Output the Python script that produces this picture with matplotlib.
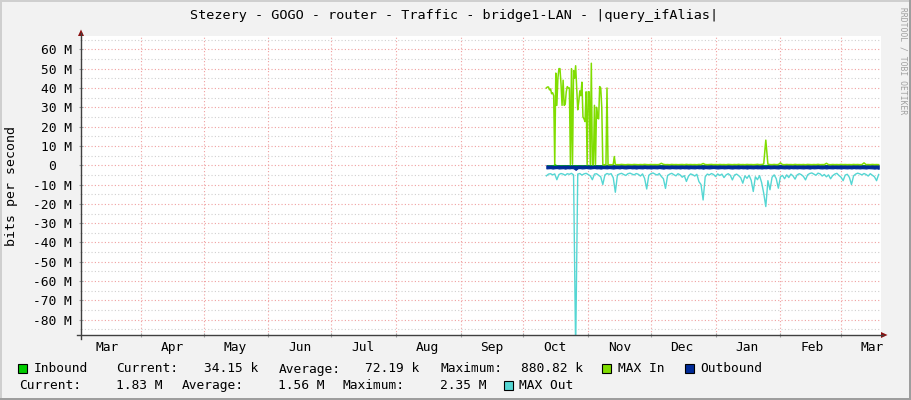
import numpy as np
import pandas as pd
import matplotlib
matplotlib.use('Agg')
import matplotlib.pyplot as plt
from matplotlib.patches import Rectangle, Polygon
from matplotlib.lines import Line2D
from matplotlib.ticker import MultipleLocator, FuncFormatter, FixedLocator, FixedFormatter, NullFormatter
import matplotlib.dates as mdates

# ---------------- data ----------------
title = "Stezery - GOGO - router - Traffic - bridge1-LAN - |query_ifAlias|"
ylabel = "bits per second"
watermark = "RRDTOOL / TOBI OETIKER"
month_labels = ['Mar', 'Apr', 'May', 'Jun', 'Jul', 'Aug', 'Sep',
                'Oct', 'Nov', 'Dec', 'Jan', 'Feb', 'Mar']
month_starts = pd.date_range('2015-03-01', '2016-03-01', freq='MS')
view_start = pd.Timestamp('2015-03-03 07:00')
view_end = pd.Timestamp('2016-03-20 03:00')

# daily series, starting 2015-10-12 (values in Mbit/s)
daily_start = '2015-10-12'
inbound = [0.12, 0.25, 0.18, 0.30, 0.88, 0.22, 0.15, 0.35, 0.20, 0.28,
           0.17, 0.32, 0.24, 0.19, 0.40, 0.26, 0.21, 0.33, 0.16, 0.29,
           0.23, 0.37, 0.18, 0.27, 0.14, 0.31, 0.20, 0.25, 0.11, 0.09,
           0.06, 0.05, 0.08, 0.04, 0.07, 0.05, 0.06, 0.04, 0.05, 0.07,
           0.05, 0.04, 0.06, 0.05, 0.03, 0.06, 0.04, 0.05, 0.07, 0.04,
           0.05, 0.06, 0.04, 0.05, 0.08, 0.20, 0.05, 0.04, 0.06, 0.05,
           0.04, 0.06, 0.05, 0.03, 0.05, 0.07, 0.04, 0.06, 0.05, 0.04,
           0.06, 0.05, 0.04, 0.07, 0.05, 0.15, 0.04, 0.06, 0.05, 0.03,
           0.05, 0.04, 0.06, 0.05, 0.07, 0.04, 0.05, 0.06, 0.04, 0.05,
           0.06, 0.04, 0.05, 0.07, 0.04, 0.05, 0.06, 0.04, 0.05, 0.06,
           0.04, 0.05, 0.07, 0.05, 0.30, 0.50, 0.10, 0.05, 0.04, 0.06,
           0.05, 0.18, 0.04, 0.06, 0.05, 0.04, 0.05, 0.07, 0.04, 0.05,
           0.06, 0.04, 0.05, 0.06, 0.04, 0.05, 0.07, 0.04, 0.05, 0.06,
           0.04, 0.05, 0.06, 0.15, 0.04, 0.05, 0.07, 0.04, 0.05, 0.06,
           0.04, 0.05, 0.06, 0.04, 0.05, 0.07, 0.04, 0.05, 0.06, 0.04,
           0.05, 0.06, 0.20, 0.04, 0.05, 0.06, 0.04, 0.05, 0.04, 0.03]
outbound = [1.62, 1.55, 1.48, 1.70, 1.52, 1.45, 1.66, 1.58, 1.50, 1.73,
            1.49, 1.60, 1.44, 1.57, 2.35, 1.52, 1.46, 1.63, 1.55, 1.41,
            1.58, 1.67, 1.50, 1.43, 1.61, 1.54, 1.72, 1.47, 1.53, 1.60,
            1.45, 1.56, 1.69, 1.51, 1.48, 1.62, 1.40, 1.57, 1.65, 1.50,
            1.44, 1.59, 1.53, 1.68, 1.47, 1.55, 1.61, 1.42, 1.58, 1.52,
            1.66, 1.49, 1.54, 1.60, 1.43, 1.57, 1.71, 1.48, 1.55, 1.62,
            1.46, 1.53, 1.59, 1.50, 1.64, 1.45, 1.57, 1.52, 1.68, 1.49,
            1.55, 1.61, 1.44, 1.58, 1.51, 1.74, 1.47, 1.56, 1.63, 1.50,
            1.42, 1.57, 1.65, 1.53, 1.48, 1.60, 1.54, 1.46, 1.59, 1.67,
            1.51, 1.56, 1.62, 1.45, 1.58, 1.52, 1.69, 1.48, 1.55, 1.61,
            1.47, 1.59, 1.53, 1.66, 1.50, 1.57, 1.43, 1.60, 1.54, 1.49,
            1.58, 1.64, 1.46, 1.55, 1.61, 1.51, 1.67, 1.45, 1.57, 1.52,
            1.60, 1.48, 1.56, 1.63, 1.50, 1.54, 1.70, 1.47, 1.59, 1.53,
            1.44, 1.58, 1.62, 1.51, 1.65, 1.49, 1.55, 1.60, 1.46, 1.57,
            1.53, 1.68, 1.48, 1.56, 1.61, 1.50, 1.64, 1.45, 1.59, 1.54,
            1.62, 1.51, 1.57, 1.66, 1.49, 1.55, 1.60, 1.72, 1.58, 1.83]
max_out = [5.5, 4.6, 4.4, 5.0, 4.5, 7.5, 4.8, 4.3, 4.6, 5.2,
           4.4, 4.7, 4.2, 5.0, 96.0, 4.6, 4.3, 5.1, 4.5, 4.2,
           4.8, 5.5, 7.5, 4.6, 4.4, 5.2, 6.0, 10.0, 5.0, 4.3,
           4.7, 4.4, 6.5, 14.0, 5.0, 4.5, 4.2, 4.8, 5.3, 4.4,
           4.1, 4.6, 5.0, 4.3, 4.7, 5.6, 4.5, 6.8, 12.3, 5.2,
           4.4, 4.0, 4.6, 5.1, 4.3, 5.8, 7.0, 12.0, 5.3, 4.6,
           4.2, 4.9, 5.5, 4.4, 5.0, 6.2, 5.4, 8.4, 5.7, 4.5,
           4.9, 5.6, 4.7, 8.5, 10.0, 18.0, 6.0, 4.6, 5.0, 4.3,
           4.8, 5.9, 4.5, 5.3, 4.6, 6.4, 5.0, 4.4, 5.2, 7.6,
           5.1, 4.6, 5.4, 6.5, 9.3, 5.5, 6.8, 5.2, 7.8, 13.6,
           6.0, 7.5, 5.4, 9.0, 14.5, 21.4, 8.0, 12.7, 6.2, 5.0,
           7.0, 11.9, 6.0, 5.3, 7.0, 5.0, 6.4, 4.6, 5.5, 7.2,
           5.0, 4.4, 4.9, 5.8, 7.6, 5.0, 4.3, 4.0, 4.6, 5.2,
           4.1, 4.5, 5.6, 4.8, 6.0, 5.0, 7.0, 5.4, 4.6, 4.2,
           5.3, 6.2, 8.0, 5.1, 4.7, 6.3, 10.0, 5.5, 4.6, 4.1,
           4.5, 5.0, 4.3, 4.8, 5.6, 4.4, 5.2, 6.0, 8.0, 4.8]

# MAX In: 12-hourly from 2015-10-12, then daily from 2015-11-15
max_in_fall_start = '2015-10-12'
max_in_fall = [40, 40.5, 40.5, 39, 39.5, 37, 37.5, 36, 0.3, 47.7,
               31, 45, 50, 50, 42, 31, 44, 31, 31.5, 38,
               40.7, 40, 40, 0.4, 50, 0.5, 49, 45, 51.5, 40,
               28.7, 33, 38.5, 36, 43, 25, 24, 22.6, 38, 0.3,
               38, 38, 0.4, 52.8, 0.3, 0.3, 31, 0.4, 30, 24.5,
               24, 40.7, 40, 30, 0.3, 0.2, 0.3, 0.2, 40, 0.3,
               0.2, 0.3, 0.2, 0.3, 0.4, 4.5, 0.3, 0.3]
max_in_winter_start = '2015-11-15'
max_in_winter = [0.35, 0.28, 0.42, 0.30, 0.25, 0.38, 0.33, 0.27, 0.40, 0.31,
                 0.26, 0.36, 0.29, 0.44, 0.32, 0.27, 0.39, 0.30, 0.34, 0.28,
                 0.37, 1.00, 0.45, 0.29, 0.33, 0.26, 0.41, 0.30, 0.35, 0.28,
                 0.32, 0.38, 0.27, 0.43, 0.30, 0.36, 0.29, 0.34, 0.26, 0.40,
                 0.31, 0.90, 0.37, 0.28, 0.33, 0.42, 0.29, 0.35, 0.27, 0.39,
                 0.30, 0.34, 0.26, 0.41, 0.32, 0.28, 0.37, 0.30, 0.44, 0.29,
                 0.35, 0.27, 0.40, 0.31, 0.36, 0.28, 0.33, 0.45, 0.30, 0.38,
                 0.62, 13.0, 0.55, 0.34, 0.29, 0.41, 0.30, 0.36, 1.20, 0.32,
                 0.28, 0.39, 0.31, 0.35, 0.27, 0.43, 0.30, 0.34, 0.29, 0.37,
                 0.26, 0.40, 0.32, 0.28, 0.36, 0.30, 0.44, 0.29, 0.35, 0.31,
                 1.00, 0.33, 0.27, 0.38, 0.30, 0.35, 0.28, 0.42, 0.31, 0.36,
                 0.29, 0.34, 0.27, 0.40, 0.32, 0.37, 0.28, 0.33, 1.20, 0.30,
                 0.36, 0.29, 0.41, 0.31, 0.35, 0.30]

legend_in = {'Current:': '34.15 k', 'Average:': '72.19 k', 'Maximum:': '880.82 k'}
legend_out = {'Current:': '1.83 M', 'Average:': '1.56 M', 'Maximum:': '2.35 M'}

C_IN = '#00CC00'
C_MAXIN = '#80DD00'
C_OUT = '#002A97'
C_MAXOUT = '#55D6D3'

# ---------------- figure ----------------
W, H = 911, 400
FONT = 'DejaVu Sans Mono'
FS = 9.3
plt.rcParams['font.family'] = [FONT, 'DejaVu Sans']

fig = plt.figure(figsize=(W / 100, H / 100), dpi=100, facecolor='#F2F2F2')


def fx(x):
    return x / W


def fy(y):
    return 1 - y / H


def prect(x, y, w, h, **kw):
    fig.add_artist(Rectangle((fx(x), fy(y + h)), w / W, h / H,
                             transform=fig.transFigure, **kw))


ax = fig.add_axes([fx(81), fy(335), 800 / W, 299 / H])
ax.set_facecolor('white')

d_daily = pd.date_range(daily_start, periods=len(outbound), freq='D')
d_fall = pd.date_range(max_in_fall_start, periods=len(max_in_fall), freq='12h')
d_winter = pd.date_range(max_in_winter_start, periods=len(max_in_winter), freq='D')
d_maxin = d_fall.append(d_winter)
v_maxin = np.array(max_in_fall + max_in_winter)

ax.fill_between(d_daily, -np.array(outbound), 0, facecolor=C_OUT, edgecolor=C_OUT,
                lw=0.9, zorder=3)
ax.plot(d_daily, -np.array(max_out), color=C_MAXOUT, lw=1.0, zorder=4)
ax.fill_between(d_daily, np.array(inbound), 0, color=C_IN, lw=0, zorder=5)
ax.plot(d_maxin, v_maxin, color=C_MAXIN, lw=1.1, zorder=6)

ax.set_xlim(view_start, view_end)
ax.set_ylim(-87.9, 66.9)

# grid / ticks
ax.yaxis.set_major_locator(MultipleLocator(10))
ax.yaxis.set_minor_locator(MultipleLocator(5))


def yfmt(v, pos):
    if abs(v) < 1e-9:
        return "0  "
    return f"{v:.0f} M"


ax.yaxis.set_major_formatter(FuncFormatter(yfmt))
ms_num = mdates.date2num(month_starts.to_pydatetime())
mid_num = mdates.date2num((month_starts + pd.Timedelta(days=15)).to_pydatetime())
ax.xaxis.set_major_locator(FixedLocator(ms_num))
ax.xaxis.set_major_formatter(NullFormatter())
ax.xaxis.set_minor_locator(FixedLocator(mid_num))
ax.xaxis.set_minor_formatter(FixedFormatter(month_labels))

ax.xaxis.grid(True, which='major', color='#F0A0A0', linestyle=(0, (1, 2)), lw=0.8)
ax.yaxis.grid(True, which='major', color='#F0A0A0', linestyle=(0, (1, 2)), lw=0.8)
ax.yaxis.grid(True, which='minor', color='#D0D0D0', linestyle=(0, (1, 2)), lw=0.8)
ax.set_axisbelow(True)

ax.tick_params(axis='y', which='major', length=3, direction='inout', color='#A0A0A0',
               labelsize=FS, pad=5, labelcolor='black')
ax.tick_params(axis='y', which='minor', length=2, direction='inout', color='#C8C8C8')
ax.tick_params(axis='x', which='major', length=3, direction='inout', color='#A0A0A0')
ax.tick_params(axis='x', which='minor', length=0, labelsize=FS, pad=4.5, labelcolor='black')
for lab in ax.get_yticklabels() + ax.get_xticklabels(minor=True):
    lab.set_fontfamily(FONT)

for s in ax.spines.values():
    s.set_visible(False)

# axes lines and arrows
fig.add_artist(Line2D([fx(81), fx(81)], [fy(339), fy(33)], color='#404040', lw=1.0,
                      transform=fig.transFigure))
fig.add_artist(Line2D([fx(77), fx(883)], [fy(335), fy(335)], color='#404040', lw=1.0,
                      transform=fig.transFigure))
fig.add_artist(Polygon([(fx(78), fy(36)), (fx(84), fy(36)), (fx(81), fy(29.5))],
                       closed=True, color='#8B1010', transform=fig.transFigure, lw=0))
fig.add_artist(Polygon([(fx(881), fy(332)), (fx(881), fy(338)), (fx(887.5), fy(335))],
                       closed=True, color='#8B1010', transform=fig.transFigure, lw=0))

# texts
fig.text(fx(454), fy(19.5), title, ha='center', va='baseline', fontsize=9.7,
         family=FONT, color='black')
fig.text(fx(12), fy(185.5), ylabel, ha='center', va='center', rotation=90,
         fontsize=9.5, family=FONT, color='black')
fig.text(fx(903), fy(61), watermark, ha='center', va='center', rotation=270,
         fontsize=5.8, family=FONT, color='#A0A0A0')

# legend row 1
r1, r2 = 372.5, 389
prect(18, 363.5, 9, 9, facecolor=C_IN, edgecolor='black', lw=0.8)
fig.text(fx(34), fy(r1), 'Inbound', ha='left', va='baseline', fontsize=FS, family=FONT)
lx_lab = [116, 279, 440.5]
lx_val = [258.5, 419.5, 582.7]
for (k, v), xl, xv in zip(legend_in.items(), lx_lab, lx_val):
    fig.text(fx(xl), fy(r1), k, ha='left', va='baseline', fontsize=FS, family=FONT)
    fig.text(fx(xv), fy(r1), v, ha='right', va='baseline', fontsize=FS, family=FONT)
prect(601.5, 363.5, 9, 9, facecolor=C_MAXIN, edgecolor='black', lw=0.8)
fig.text(fx(617.5), fy(r1), 'MAX In', ha='left', va='baseline', fontsize=FS, family=FONT)
prect(684.5, 363.5, 9, 9, facecolor=C_OUT, edgecolor='black', lw=0.8)
fig.text(fx(700), fy(r1), 'Outbound', ha='left', va='baseline', fontsize=FS, family=FONT)

# legend row 2
lx_lab2 = [19, 181.3, 342.8]
lx_val2 = [162.7, 324, 486.3]
for (k, v), xl, xv in zip(legend_out.items(), lx_lab2, lx_val2):
    fig.text(fx(xl), fy(r2), k, ha='left', va='baseline', fontsize=FS, family=FONT)
    fig.text(fx(xv), fy(r2), v, ha='right', va='baseline', fontsize=FS, family=FONT)
prect(503.5, 380.5, 9, 9, facecolor=C_MAXOUT, edgecolor='black', lw=0.8)
fig.text(fx(518.8), fy(r2), 'MAX Out', ha='left', va='baseline', fontsize=FS, family=FONT)

# image border (3D shade)
prect(0, 0, W, 2, facecolor='#CFCFCF', lw=0)
prect(0, 0, 2, H, facecolor='#CFCFCF', lw=0)
prect(W - 2, 0, 2, H, facecolor='#9E9E9E', lw=0)
prect(0, H - 2, W, 2, facecolor='#9E9E9E', lw=0)

fig.savefig('out.png', dpi=100, facecolor=fig.get_facecolor())
